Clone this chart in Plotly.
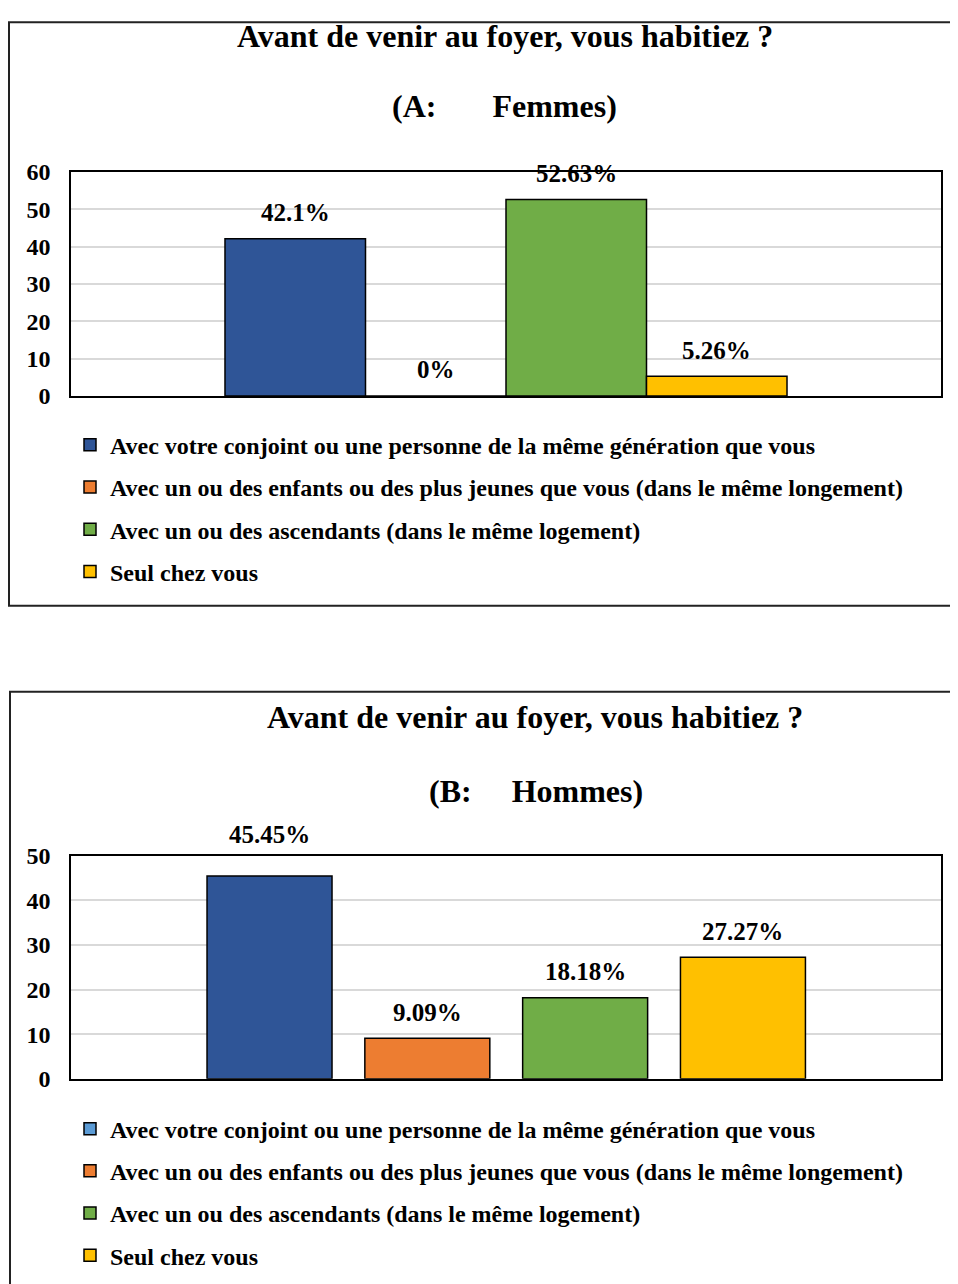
import plotly.graph_objects as go

# ---------------- data ----------------
series = [
    "Avec votre conjoint ou une personne de la même génération que vous",
    "Avec un ou des enfants ou des plus jeunes que vous (dans le même longement)",
    "Avec un ou des ascendants (dans le même logement)",
    "Seul chez vous",
]
values_A = [42.1, 0, 52.63, 5.26]      # Femmes
values_B = [45.45, 9.09, 18.18, 27.27]  # Hommes
title_main = "Avant de venir au foyer, vous habitiez ?"
subtitle_A = ("(A:", "Femmes)")
subtitle_B = ("(B:", "Hommes)")

# ---------------- styles ----------------
bar_colors = ["#2F5597", "#ED7D31", "#70AD47", "#FFC000"]
legend_colors_A = ["#2F5597", "#ED7D31", "#70AD47", "#FFC000"]
legend_colors_B = ["#5B9BD5", "#ED7D31", "#70AD47", "#FFC000"]
label_shift_A = [26, 26, 26, 26]
label_shift_B = [42, 26, 26, 26]
FONT = "Liberation Serif"
W, H = 958, 1284

# the page shows the figure offset by (8, 20) and slightly compressed vertically
OX, OY, SY = 8, 20, 0.98


def fx(p):
    """target picture x (px) -> paper fraction"""
    return (p - OX) / W


def fy(p):
    """target picture y (px) -> paper fraction"""
    return 1 - ((p - OY) / SY) / H


fig = go.Figure()


def add_chart(values, xa, ya, legend_name, legend_colors, bar_width):
    for i, (name, v) in enumerate(zip(series, values)):
        fig.add_trace(go.Bar(
            x=[name], y=[v], width=bar_width,
            marker=dict(color=bar_colors[i], line=dict(color="black", width=1.5)),
            showlegend=False, xaxis=xa, yaxis=ya, hoverinfo="y",
        ))
    for i, name in enumerate(series):
        fig.add_trace(go.Bar(
            x=[None], y=[None], name=name,
            marker=dict(color=legend_colors[i], line=dict(color="black", width=1.5)),
            showlegend=True, legend=legend_name, legendgroup=f"{legend_name}{i}",
            xaxis=xa, yaxis=ya,
        ))


add_chart(values_A, "x", "y", "legend", legend_colors_A, 1.0)
add_chart(values_B, "x2", "y2", "legend2", legend_colors_B, 0.792)

tickfont = dict(family=FONT, size=24, color="black", weight="bold")
ax_common = dict(showline=True, mirror=True, linecolor="black", linewidth=1.5,
                 zeroline=False, fixedrange=True)
legend_font = dict(family=FONT, size=24, color="black", weight="bold")

fig.update_layout(
    width=W, height=H, margin=dict(l=0, r=0, t=0, b=0),
    paper_bgcolor="white", plot_bgcolor="white",
    barmode="overlay",
    font=dict(family=FONT, color="black"),
    xaxis=dict(domain=[fx(71), fx(941)], anchor="y", type="category",
               categoryorder="array", categoryarray=series,
               range=[-1.596, 4.596], showticklabels=False, showgrid=False, **ax_common),
    yaxis=dict(domain=[fy(395), fy(171)], anchor="x", range=[0, 60], dtick=10,
               showgrid=True, gridcolor="#D9D9D9", gridwidth=1.5,
               tickfont=tickfont, ticklabelstandoff=14, **ax_common),
    xaxis2=dict(domain=[fx(71), fx(941)], anchor="y2", type="category",
                categoryorder="array", categoryarray=series,
                range=[-1.258, 4.255], showticklabels=False, showgrid=False, **ax_common),
    yaxis2=dict(domain=[fy(1078), fy(855)], anchor="x2", range=[0, 50], dtick=10,
                showgrid=True, gridcolor="#D9D9D9", gridwidth=1.5,
                tickfont=tickfont, ticklabelstandoff=14, **ax_common),
    legend=dict(x=fx(70), y=1 - 410 / H, xanchor="left", yanchor="top",
                font=legend_font, tracegroupgap=8, bgcolor="rgba(0,0,0,0)",
                itemclick=False),
    legend2=dict(x=fx(70), y=1 - 1108 / H, xanchor="left", yanchor="top",
                 font=legend_font, tracegroupgap=8, bgcolor="rgba(0,0,0,0)",
                 itemclick=False),
)

# outer chart frames
fig.add_shape(type="rect", xref="paper", yref="paper",
              x0=fx(9), x1=1.05, y0=fy(605), y1=1 - 1.2 / H,
              line=dict(color="#222222", width=2))
fig.add_shape(type="rect", xref="paper", yref="paper",
              x0=fx(10), x1=1.05, y0=-0.05, y1=fy(691),
              line=dict(color="#222222", width=2))

title_font = dict(family=FONT, size=32, color="black", weight="bold")


def add_titles(cx, y_title, cx_sub, y_sub, sub, n_gap):
    fig.add_annotation(text=title_main, xref="paper", yref="paper",
                       x=fx(cx), y=fy(y_title), xanchor="center", yanchor="middle",
                       showarrow=False, font=title_font)
    fig.add_annotation(text=sub[0] + "\u00a0" * n_gap + sub[1], xref="paper", yref="paper",
                       x=fx(cx_sub), y=fy(y_sub), xanchor="center", yanchor="middle",
                       showarrow=False, font=title_font)


add_titles(505, 35, 505, 105, subtitle_A, 7)
add_titles(535, 716, 536, 790, subtitle_B, 5)

label_font = dict(family=FONT, size=25, color="black", weight="bold")


def add_labels(values, xa, ya, shifts):
    for name, v, s in zip(series, values, shifts):
        fig.add_annotation(text=f"{v:g}%", x=name, y=v, xref=xa, yref=ya,
                           yshift=s, showarrow=False, font=label_font,
                           xanchor="center", yanchor="middle")


add_labels(values_A, "x", "y", label_shift_A)
add_labels(values_B, "x2", "y2", label_shift_B)

fig.write_html("out.html")
